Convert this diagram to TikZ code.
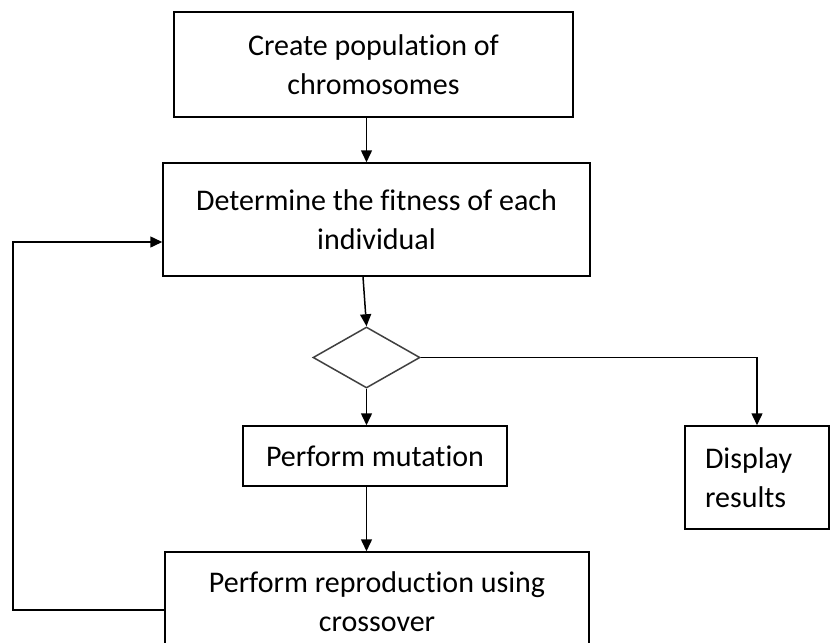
\documentclass[tikz,border=0pt]{standalone}
\usepackage{fontspec}
\setmainfont{Carlito}[Ligatures={NoCommon}]
\usetikzlibrary{shapes.geometric,arrows.meta}
\begin{document}
\begin{tikzpicture}[x=1pt,y=-1pt,
  box/.style={draw=black,line width=1.5pt,inner sep=0pt,align=center,
    font=\fontsize{30}{39}\selectfont},
  arr/.style={draw=black,line width=1.5pt,-{Triangle[length=12pt,width=11pt]}},
  ln/.style={draw=black,line width=1.5pt}]
\clip (0,0) rectangle (831,643);
\fill[white] (0,0) rectangle (831,643);
\node[box,minimum width=399pt,minimum height=105pt] (b1) at (373.5,64.5)
  {Create population of\\chromosomes};
\node[box,minimum width=427pt,minimum height=113pt] (b2) at (376.5,219.5)
  {Determine the fitness of each\\individual};
\node[diamond,draw=black!75,line width=1.5pt,inner sep=0pt,
  minimum width=107pt,minimum height=61pt] (dia) at (366.5,357.5) {};
\node[box,minimum width=264pt,minimum height=60pt] (mut) at (375,456)
  {Perform mutation};
\node[box,minimum width=144pt,minimum height=103pt,align=left,
  text width=104pt] (disp) at (757,477.5) {Display\\results};
\node[box,minimum width=424pt,minimum height=100pt] (b3) at (377,602)
  {Perform reproduction using\\crossover};
\coordinate (x363) at (363,0);
\coordinate (lp) at (13,610);
\coordinate (lq) at (13,242);
\draw[arr] (b1.south -| dia) -- (b2.north -| dia);
\draw[arr] (b2.south -| x363) -- (dia.north);
\draw[arr] (dia.south) -- (mut.north -| dia);
\draw[arr] (mut.south -| dia) -- (b3.north -| dia);
\draw[arr] (dia.east) -| (disp.north);
\draw[arr] (b3.west |- lp) -- (lp) -- (lq) -- (b2.west |- lq);
\end{tikzpicture}
\end{document}
